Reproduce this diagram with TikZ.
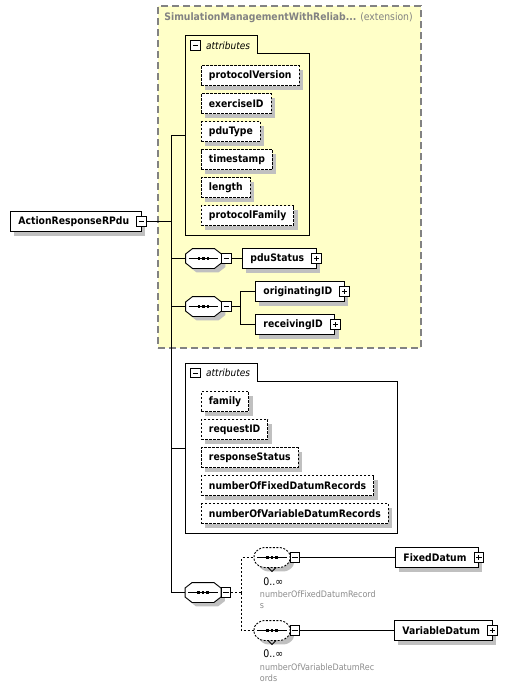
\documentclass[tikz,border=0pt]{standalone}
\usepackage{fontspec}
\setmainfont{DejaVu Sans Condensed}
\usetikzlibrary{positioning,shadows,calc}

\definecolor{extfill}{RGB}{255,255,200}
\definecolor{extline}{RGB}{130,130,130}
\definecolor{shade}{RGB}{192,192,192}
\definecolor{faint}{RGB}{140,140,140}

% attribute frame with a tab on top
\newcommand\attrgroup[4]{%
  \node (#1) [minimum width=#3pt, minimum height=#4pt, inner sep=0pt] at #2 {};
  \draw (#1.north west) -- ++(72,0) -- ++(0,18) -| (#1.south east) -- (#1.south west) -- cycle;
  \node (#1m) [minusbox] at ($(#1.north west)+(10,9.5)$) {};
  \node (#1t) [tabtext, right=5pt of #1m] {attributes};
}

% sequence compositor (octagon with three dots)
\newcommand\seqnode[3]{%
  \node (#1) [minimum width=35pt, minimum height=19pt, inner sep=0pt] at #2 {};
  \draw[fill=white, shadowed, #3]
    ($(#1.west)+(0,-4.5)$) -- ($(#1.north west)+(7,0)$) -- ($(#1.north east)+(-7,0)$)
    -- ($(#1.east)+(0,-4.5)$) -- ($(#1.east)+(0,4.5)$) -- ($(#1.south east)+(-7,0)$)
    -- ($(#1.south west)+(7,0)$) -- ($(#1.west)+(0,4.5)$) -- cycle;
  \draw ($(#1.west)+(3,0)$) -- ($(#1.east)+(-3,0)$);
  \foreach \d in {-4.5,0,4.5}
    \fill ($(#1.center)+(\d-1.4,-1.4)$) rectangle ++(2.8,2.8);
}

\begin{document}
\begin{tikzpicture}
[
    x=1pt, y=-1pt,
    line width=0.9pt,
    node distance = 7.1pt,
    shadowed/.style = {drop shadow={shadow xshift=4pt,
                                    shadow yshift=-4pt,
                                    fill=shade, opacity=1}},
    elem/.style     = {draw, fill=white,
                       font=\fontsize{10.3}{12}\selectfont\bfseries,
                       minimum height=20pt,
                       inner xsep=8pt, inner ysep=0pt,
                       execute at end node=\hspace{4pt},
                       shadowed},
    attr/.style     = {draw, dash pattern=on 2.5pt off 1.5pt, fill=white,
                       font=\fontsize{10.3}{12}\selectfont\bfseries,
                       minimum height=20pt,
                       inner xsep=7.5pt, inner ysep=0pt,
                       shadowed},
    minusbox/.style = {draw, solid, fill=white, minimum size=9.5pt, inner sep=0pt,
                       path picture={\draw[solid]
                         ([xshift=2pt]path picture bounding box.west) --
                         ([xshift=-2pt]path picture bounding box.east);}},
    plusbox/.style  = {draw, solid, fill=white, minimum size=9.5pt, inner sep=0pt,
                       path picture={\draw[solid]
                         ([xshift=2pt]path picture bounding box.west) --
                         ([xshift=-2pt]path picture bounding box.east)
                         ([yshift=-2pt]path picture bounding box.north) --
                         ([yshift=2pt]path picture bounding box.south);}},
    repline/.style  = {dash pattern=on 2pt off 1.5pt, rounded corners=3pt},
    tabtext/.style  = {font=\fontsize{10}{12}\selectfont\itshape, inner sep=0pt},
    card/.style     = {font=\fontsize{10.5}{12}\selectfont, inner sep=0pt},
    note/.style     = {font=\fontsize{8.9}{11}\selectfont, text=faint,
                       align=left, inner sep=0pt}
]
\useasboundingbox (0,0) rectangle (519,683);

% extension frame
\node (ext) [draw=extline, fill=extfill, line width=1.2pt,
             dash pattern=on 7pt off 4pt,
             minimum width=263pt, minimum height=342pt] at (289.5,177) {};
\node (title) [anchor=west, text=extline, inner sep=0pt,
               font=\fontsize{10.3}{12}\selectfont] at (164,18)
    {\textbf{SimulationManagementWithReliab...} (extension)};

% root element
\node (root) [elem, anchor=west] at (10,221.5) {ActionResponseRPdu};
\node (m0) [minusbox] at (root.east) {};

% first attributes
\attrgroup{grp1}{(247.5,135.5)}{123}{198.5}
\node (pv) [attr, anchor=west] at (201,75.5) {protocolVersion};
\node (ex) [attr, below=of pv.south west, anchor=north west] {exerciseID};
\node (pt) [attr, below=of ex.south west, anchor=north west] {pduType};
\node (ts) [attr, below=of pt.south west, anchor=north west] {timestamp};
\node (ln) [attr, below=of ts.south west, anchor=north west] {length};
\node (pf) [attr, below=of ln.south west, anchor=north west] {protocolFamily};

% sequences in the extension
\seqnode{seq1}{(203.5,258.5)}{}
\node (ms1) [minusbox, right=0pt of seq1] {};
\node (pdust) [elem, anchor=west] at (242,258.5) {pduStatus};
\node (pdustp) [plusbox] at (pdust.east) {};
\draw (ms1) -- (pdust);

\seqnode{seq2}{(203.5,306.5)}{}
\node (ms2) [minusbox, right=0pt of seq2] {};
\coordinate (br2) at (240.5,306.5);
\node (orig) [elem, anchor=west] at (255,291.5) {originatingID};
\node (origp) [plusbox] at (orig.east) {};
\node (recv) [elem, anchor=west] at (255,324.5) {receivingID};
\node (recvp) [plusbox] at (recv.east) {};
\draw (ms2) -- (br2);
\draw (br2) |- (orig);
\draw (br2) |- (recv);

% second attributes
\attrgroup{grp2}{(291.5,448.5)}{211}{169}
\node (fa) [attr, anchor=west] at (201,401.5) {family};
\node (rq) [attr, below=of fa.south west, anchor=north west] {requestID};
\node (rs) [attr, below=of rq.south west, anchor=north west] {responseStatus};
\node (nf) [attr, below=of rs.south west, anchor=north west] {numberOfFixedDatumRecords};
\node (nv) [attr, below=of nf.south west, anchor=north west] {numberOfVariableDatumRecords};

% datum sequence
\seqnode{seq3}{(203,592.5)}{}
\node (ms3) [minusbox, right=0pt of seq3] {};
\coordinate (br3) at (241.5,592.5);

\seqnode{rep1}{(272,557.5)}{repline}
\node (mr1) [minusbox, right=0pt of rep1] {};
\draw ($(rep1.south)+(-4,0)$) -- ++(4,4) -- ++(4,-4);
\node (fixd) [elem, anchor=west] at (395,557.5) {FixedDatum};
\node (fixdp) [plusbox] at (fixd.east) {};
\draw (mr1) -- (fixd);
\node (card1) [card, anchor=west] at (263,582) {0..∞};
\node (note1) [note, anchor=north west] at (259.5,590.5) {numberOfFixedDatumRecord\\s};

\seqnode{rep2}{(272,630.5)}{repline}
\node (mr2) [minusbox, right=0pt of rep2] {};
\draw ($(rep2.south)+(-4,0)$) -- ++(4,4) -- ++(4,-4);
\node (vard) [elem, anchor=west] at (394,630.5) {VariableDatum};
\node (vardp) [plusbox] at (vard.east) {};
\draw (mr2) -- (vard);
\node (card2) [card, anchor=west] at (263,654) {0..∞};
\node (note2) [note, anchor=north west] at (259.5,663.5) {numberOfVariableDatumRec\\ords};

\draw[dash pattern=on 2pt off 2pt] (ms3) -- (br3);
\draw[dash pattern=on 2pt off 2pt] (br3) |- (rep1);
\draw[dash pattern=on 2pt off 2pt] (br3) |- (rep2);

% trunk
\coordinate (trunk) at (171.5,221.5);
\draw (m0) -- (trunk);
\draw (grp1.west) -| (trunk);
\draw (trunk) |- (seq3);
\draw (seq1) -- (seq1 -| trunk);
\draw (seq2) -- (seq2 -| trunk);
\draw (grp2.west) -- (grp2.west -| trunk);

\end{tikzpicture}
\end{document}
